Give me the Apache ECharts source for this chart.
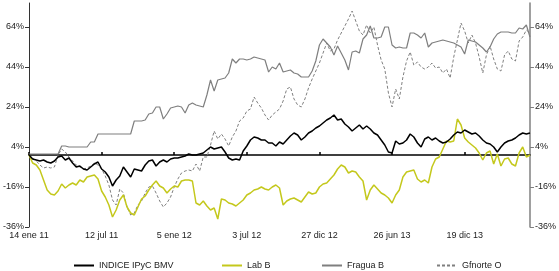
<!DOCTYPE html>
<html>
<head>
<meta charset="utf-8">
<script src="https://cdn.jsdelivr.net/npm/echarts@6/dist/echarts.min.js"></script>
<style>
  html, body { margin: 0; padding: 0; background: #fff; }
  #chart { width: 559px; height: 271px; }
</style>
</head>
<body>
<div id="chart"></div>
<script>
// etiquetas del eje x (una cada 20 puntos)
const tickLabels = ['14 ene 11', '12 jul 11', '5 ene 12', '3 jul 12', '27 dic 12', '26 jun 13', '19 dic 13'];
const yTicks = [-36, -16, 4, 24, 44, 64];

// rendimiento acumulado, %
const indice = [0, -2, -2.5, -3, -2.5, -3.5, -4, -3, -1, -0.5, -2.5, -1.5, -4, -6, -5.5, -7, -7.5, -6, -4.5, -3.5,
  -7, -8.5, -11, -15.5, -12.5, -10.5, -6, -8.5, -11, -7, -7.5, -8, -5, -3, -2.5, -5.5, -3.5, -2.5, -3.5, -2,
  -1.5, -1.5, -1, -0.5, 0.5, 0, 0, 0.5, 1, 2.5, 4, 3, 3.5, 4, 1.5, -1.5, -2.5, -2, -2.5, 2,
  4.5, 7.5, 9, 8.5, 7.5, 7.5, 6, 6, 4.5, 6.5, 5.5, 7.5, 9.5, 11, 10, 7.5, 9, 11, 12, 13.5,
  14.5, 16, 17.5, 18.5, 20, 17.5, 18, 15.5, 14, 12, 13.5, 15, 13, 14.5, 13, 11, 10, 7.5, 5, 1.5,
  1, 7, 5.5, 6, 7.5, 10.5, 9, 6, 4, 8, 9, 7.5, 8.5, 7, 6, 6.5, 8, 10, 11.5, 11,
  12.5, 11.5, 10.5, 11, 9.5, 7.5, 6, 5.5, 4, 1.5, 4, 6, 7, 7.5, 8.5, 10, 11, 10.5, 11];

const labB = [0, -4, -5, -7.5, -12.5, -17.5, -19.5, -20, -18, -14.5, -16.5, -15, -14, -15, -12.5, -13.5, -11, -10.5, -10, -12,
  -18, -21, -25, -31, -27.5, -22.5, -20, -26, -29, -30, -26, -22, -20.5, -17.5, -15, -13, -15.5, -16.5, -19, -17,
  -15.5, -16, -13, -12.5, -12.5, -13, -24, -25, -23, -25.5, -27.5, -26.5, -32, -22, -22.5, -24, -24.5, -25.5, -24, -22.5,
  -20, -19, -17.5, -17, -16, -17, -17.5, -16, -15, -16.5, -25, -23, -22, -21.5, -22.5, -23.5, -21, -18.5, -19.5, -19,
  -16, -14.5, -14, -12, -10, -7, -5, -6, -9, -8, -8.5, -11, -13, -22.5, -17.5, -15, -17, -19, -20, -21.5,
  -24, -20, -17.5, -11, -8.5, -8, -7.5, -12, -13.5, -12.5, -14, -6, -2, -1, 3, 7, 6.5, 7, 18, 15,
  8.5, 6.5, 5, 3.5, 1, -2.5, 1, 2, -4.5, 0.5, -5.5, -2, -1.5, -4.5, -5.5, 1, 4, -1, 0];

const fragua = [0.5, 0.5, 0.5, 0.5, 0.5, 0.5, 0.5, 0.5, 0.5, 4.5, 4.5, 4, 4, 4, 4, 4, 4, 6.5, 6.5, 10.5,
  10.5, 10.5, 10.5, 10.5, 10.5, 10.5, 10.5, 10.5, 10.5, 17, 17, 17, 17.5, 20.5, 21, 24, 24, 18, 20.5, 23.5,
  24, 24.5, 24, 21, 25, 26, 25, 24.5, 24, 30, 37.5, 32, 37.5, 38, 38.5, 41, 48, 46, 48, 48,
  47.5, 48, 49, 48.5, 48, 47.5, 41.5, 44, 43, 46, 41.5, 42, 42.5, 41, 40.5, 39, 39, 39, 42, 47,
  55, 58, 56, 54, 50, 54.5, 51, 47.5, 42.5, 51.5, 52, 51, 58, 60, 64.5, 58.5, 58.5, 59, 64, 64,
  55, 53.5, 54, 53.5, 53.5, 61, 61, 60, 58.5, 61, 54, 56, 56.5, 57, 57.5, 57, 56.5, 56, 55, 54,
  50.5, 57.5, 57, 56.5, 55, 53.5, 51.5, 54, 58, 60.5, 61.5, 61.5, 61.5, 61, 61, 63.5, 63, 65, 59];

const gfnorte = [0, -1.5, -3, -5, -6.5, -6, -6.5, -6, 0, 3, 1.5, -1, -3, -5, -6, -7, -6.5, -5.5, -4, -5,
  -7, -10.5, -15, -22.5, -25, -17, -19, -26, -30, -29, -25, -23, -19, -16, -15.5, -19, -23, -26, -24, -21,
  -16, -12, -9, -8, -7.5, -8, -4.5, -8, -1, -1, 5, 12, 8, 10.5, 8, 4.5, 9, 12, 17, 18.5,
  22, 23, 29, 26, 23.5, 20, 17.5, 20, 21.5, 23, 27, 33, 34, 28, 25, 24, 28, 33.5, 38, 42,
  46, 51, 56, 52, 53, 57.5, 61, 64.5, 68, 72, 67, 62, 60, 65, 61, 64, 55, 47.5, 43, 31,
  24, 33, 28, 39, 47, 51.5, 45, 46.5, 44, 43, 44, 46, 43.5, 44, 41, 43, 38.5, 49, 57.5, 66,
  62, 56, 60, 56, 49, 41, 50, 54.5, 48, 43, 42, 50, 52, 48, 47, 57, 59, 62.5, 61];

const names = ['INDICE IPyC BMV', 'Lab B', 'Fragua B', 'Gfnorte O'];
const step = 20;
const categories = indice.map((v, i) => i);

const myChart = echarts.init(document.getElementById('chart'));
const font = 'Liberation Sans';

const legendAt = (name, left) => ({
  data: [name],
  left: left,
  bottom: -4,
  itemWidth: 20,
  itemHeight: 8,
  itemGap: 4,
  itemStyle: { opacity: 0 },
  textStyle: { fontFamily: font, fontSize: 9, color: '#222' }
});

myChart.setOption({
  animation: false,
  grid: { left: 26, right: 28, top: 3, bottom: 44 },
  legend: [
    legendAt(names[0], 68),
    legendAt(names[1], 216),
    legendAt(names[2], 316),
    legendAt(names[3], 431)
  ],
  xAxis: [
    {
      type: 'category',
      data: categories,
      boundaryGap: false,
      position: 'bottom',
      axisLine: { show: false, onZero: false },
      axisTick: { show: false },
      axisLabel: {
        interval: step - 1,
        margin: 4,
        fontFamily: font,
        fontSize: 9,
        color: '#222',
        formatter: (v, idx) => tickLabels[idx / step] || ''
      }
    },
    {
      type: 'category',
      data: categories,
      boundaryGap: false,
      position: 'top',
      axisLine: { onZero: true, lineStyle: { color: '#000', width: 1.5 } },
      axisTick: { interval: step - 1, length: 3, lineStyle: { color: '#000', width: 1.5 } },
      axisLabel: { show: false }
    }
  ],
  yAxis: [
    {
      type: 'value',
      position: 'left',
      min: -36,
      max: 76,
      splitLine: { show: false },
      axisLine: { show: true, onZero: false, lineStyle: { color: '#333', width: 1 } },
      axisTick: { show: true, length: 4, customValues: yTicks, lineStyle: { color: '#333' } },
      axisLabel: {
        customValues: yTicks, margin: 5, fontFamily: font, fontSize: 9, color: '#222',
        formatter: v => v + '%'
      }
    },
    {
      type: 'value',
      position: 'right',
      min: -36,
      max: 76,
      splitLine: { show: false },
      axisLine: { show: true, onZero: false, lineStyle: { color: '#808080', width: 1.5 } },
      axisTick: { show: true, length: 4, customValues: yTicks, lineStyle: { color: '#808080' } },
      axisLabel: {
        customValues: yTicks, margin: 5, fontFamily: font, fontSize: 9, color: '#222',
        formatter: v => v + '%'
      }
    }
  ],
  series: [
    {
      name: names[3], type: 'line', data: gfnorte, symbol: 'none',
      lineStyle: { color: '#7f7f7f', width: 1, type: [3, 2] }, itemStyle: { color: '#7f7f7f' }
    },
    {
      name: names[2], type: 'line', data: fragua, symbol: 'none',
      lineStyle: { color: '#7f7f7f', width: 1.2 }, itemStyle: { color: '#7f7f7f' }
    },
    {
      name: names[1], type: 'line', data: labB, symbol: 'none',
      lineStyle: { color: '#c4c81c', width: 1.5 }, itemStyle: { color: '#c4c81c' }
    },
    {
      name: names[0], type: 'line', data: indice, symbol: 'none',
      lineStyle: { color: '#000', width: 1.5 }, itemStyle: { color: '#000' }
    }
  ]
});
</script>
</body>
</html>
